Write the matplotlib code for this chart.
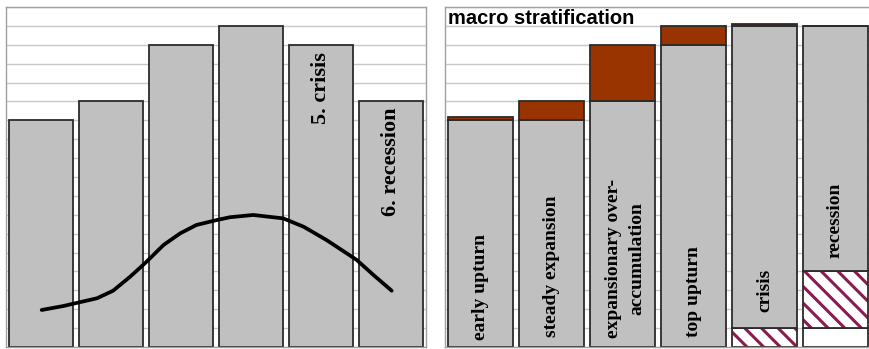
import matplotlib.pyplot as plt
import numpy as np

# left panel: cycle phases
left_heights = [12, 13, 16, 17, 16, 13]
left_labels = ["", "", "", "", "5. crisis", "6. recession"]
left_label_y = [0, 0, 0, 0, 13.7, 9.8]

# curve drawn over the left panel
curve_x = [0.01, 0.32, 0.53, 0.80, 1.03, 1.27, 1.49, 1.75, 1.99, 2.22,
           2.51, 2.70, 3.03, 3.46, 3.75, 4.08, 4.51, 4.75, 5.01]
curve_y = [1.96, 2.17, 2.35, 2.58, 2.98, 3.71, 4.45, 5.40, 6.02, 6.46,
           6.72, 6.87, 6.99, 6.81, 6.37, 5.66, 4.61, 3.81, 2.98]

# right panel: macro stratification
right_labels = ["early upturn", "steady expansion",
                "expansionary over-\naccumulation", "top upturn",
                "crisis", "recession"]
empty_base = [0, 0, 0, 0, 0, 1]
hatched = [0, 0, 0, 0, 1, 3]
gray = [12, 12, 13, 16, 16, 13]
brown = [0.2, 1, 3, 1, 0.1, 0]
right_label_y = [3.2, 4.3, 4.7, 2.95, 3.0, 6.7]

GRAY = "#c0c0c0"
BROWN = "#993300"
HATCH = "#8b1c4f"
EDGE = "#2b2b2b"

plt.rcParams["hatch.linewidth"] = 2.2


def style_axes(ax):
    ax.set_xlim(-0.5, 5.5)
    ax.set_ylim(0, 18)
    ax.set_yticks(range(0, 19))
    ax.set_xticks([])
    ax.tick_params(left=False, labelleft=False)
    ax.grid(axis="y", color="#c8c8c8", linewidth=1.0)
    ax.set_axisbelow(True)
    for s in ax.spines.values():
        s.set_color("#a0a0a0")
        s.set_linewidth(1.0)


def main():
    fig = plt.figure(figsize=(8.69, 3.49), dpi=100)

    # left panel
    ax1 = fig.add_axes([6 / 869, 2 / 349, 420 / 869, 340 / 349])
    style_axes(ax1)
    x = np.arange(len(left_heights))
    ax1.bar(x, left_heights, width=0.914, color=GRAY, edgecolor=EDGE, linewidth=1.3)
    ax1.plot(curve_x, curve_y, color="black", linewidth=2.7,
             solid_capstyle="round", solid_joinstyle="round", zorder=5)
    for i, lab in enumerate(left_labels):
        if lab:
            ax1.text(i, left_label_y[i], lab, rotation=90, ha="center", va="center",
                     family="Liberation Serif", fontweight="bold", fontsize=16)

    # right panel
    ax2 = fig.add_axes([445 / 869, 2 / 349, 426 / 869, 340 / 349])
    style_axes(ax2)
    x = np.arange(len(gray))
    w = 0.915
    base = np.array(empty_base, dtype=float)
    ax2.bar(x, base, width=w, color="white", edgecolor=EDGE, linewidth=1.3)
    hat = np.array(hatched, dtype=float)
    ax2.bar(x, hat, bottom=base, width=w, color="white", edgecolor=HATCH,
            hatch="\\\\", linewidth=0)
    ax2.bar(x, hat, bottom=base, width=w, fill=False, edgecolor=EDGE, linewidth=1.3)
    b2 = base + hat
    g = np.array(gray, dtype=float)
    ax2.bar(x, g, bottom=b2, width=w, color=GRAY, edgecolor=EDGE, linewidth=1.3)
    b3 = b2 + g
    ax2.bar(x, brown, bottom=b3, width=w, color=BROWN, edgecolor=EDGE, linewidth=1.3)

    for i, lab in enumerate(right_labels):
        ax2.text(i + (0.04 if "\n" in lab else 0), right_label_y[i], lab,
                 rotation=90, ha="center", va="center",
                 multialignment="center", linespacing=1.45,
                 family="Liberation Serif", fontweight="bold", fontsize=14)

    ax2.text(0.008, 0.993, "macro stratification", transform=ax2.transAxes,
             ha="left", va="top", family="Liberation Sans", fontweight="bold",
             fontsize=14.5)

    fig.savefig("out.png", dpi=100)


if __name__ == "__main__":
    main()
